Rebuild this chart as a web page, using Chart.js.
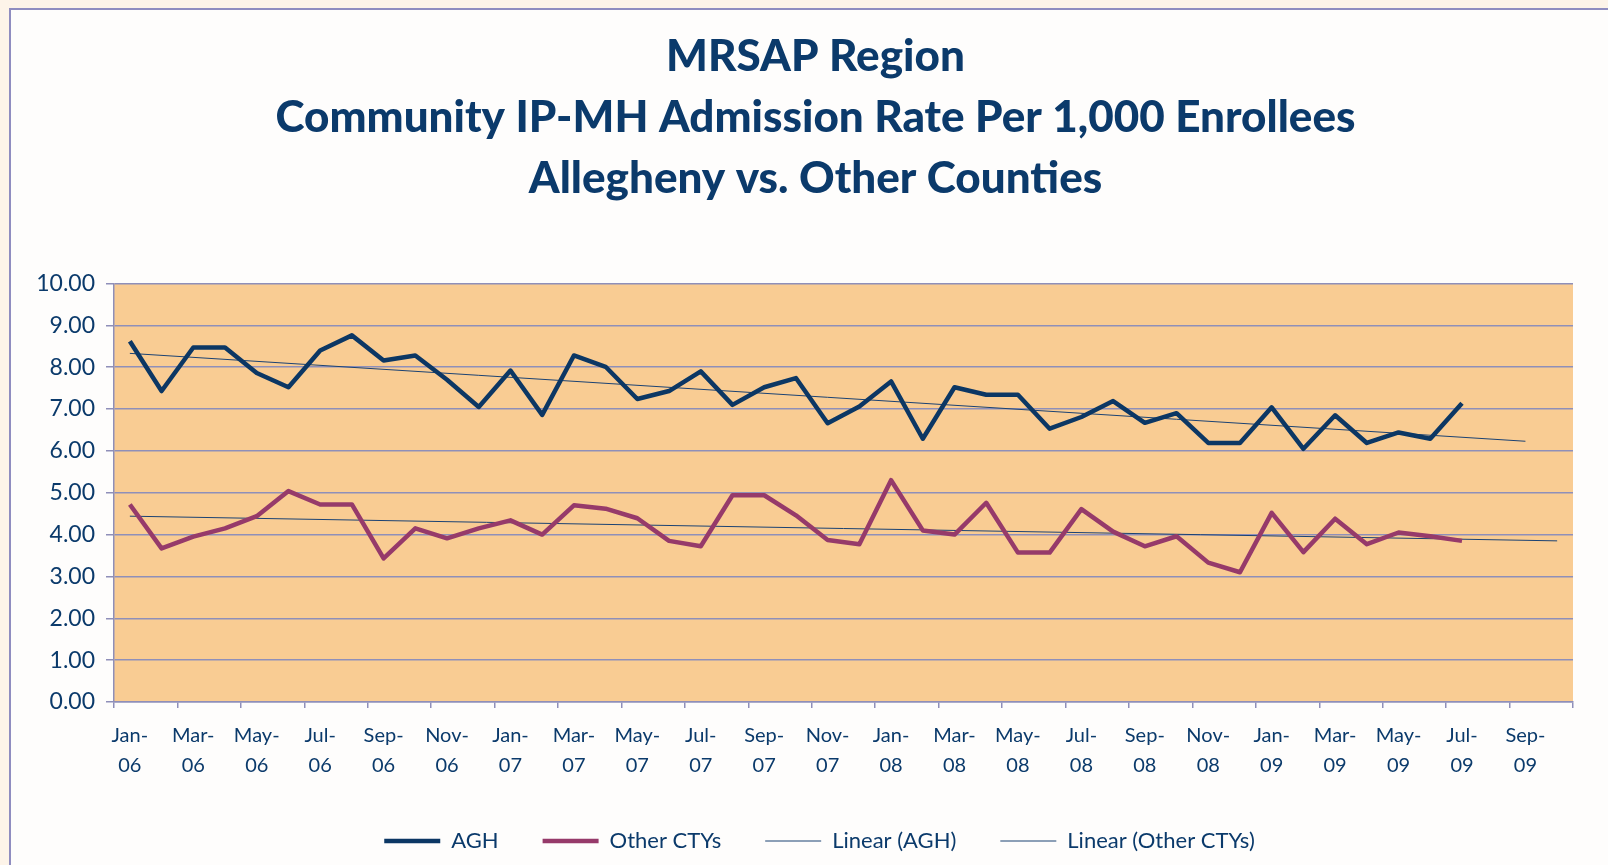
<!DOCTYPE html>
<html>
<head>
<meta charset="utf-8">
<script src="https://cdn.jsdelivr.net/npm/chart.js@4.4.1/dist/chart.umd.min.js"></script>
<style>
  html, body { margin: 0; padding: 0; overflow: hidden; background: #fdf4e9; }
  .panel { position: absolute; left: 9px; top: 8px; width: 1620px; height: 880px;
           background: #fefdfc; border-left: 2px solid #8f8dc0; border-top: 2px solid #8f8dc0; }
  canvas { position: absolute; left: 0; top: 0; }
</style>
</head>
<body>
<div class="panel"></div>
<canvas id="chart" width="1608" height="865"></canvas>
<script>
// months on the category axis (Jan-06 .. Oct-09)
const months = [
  'Jan-06','Feb-06','Mar-06','Apr-06','May-06','Jun-06','Jul-06','Aug-06','Sep-06','Oct-06','Nov-06','Dec-06',
  'Jan-07','Feb-07','Mar-07','Apr-07','May-07','Jun-07','Jul-07','Aug-07','Sep-07','Oct-07','Nov-07','Dec-07',
  'Jan-08','Feb-08','Mar-08','Apr-08','May-08','Jun-08','Jul-08','Aug-08','Sep-08','Oct-08','Nov-08','Dec-08',
  'Jan-09','Feb-09','Mar-09','Apr-09','May-09','Jun-09','Jul-09','Aug-09','Sep-09','Oct-09'
]

const agh = [
  8.62, 7.43, 8.47, 8.47, 7.86, 7.52, 8.40, 8.76, 8.16, 8.28, 7.70, 7.05,
  7.92, 6.86, 8.28, 8.01, 7.24, 7.43, 7.90, 7.10, 7.52, 7.74, 6.66, 7.06,
  7.66, 6.29, 7.52, 7.34, 7.34, 6.53, 6.81, 7.19, 6.67, 6.90, 6.19, 6.19,
  7.04, 6.05, 6.85, 6.19, 6.44, 6.29, 7.14
]

const otherCtys = [
  4.72, 3.67, 3.95, 4.15, 4.44, 5.04, 4.72, 4.72, 3.43, 4.15, 3.91, 4.15,
  4.34, 4.00, 4.70, 4.62, 4.39, 3.85, 3.72, 4.94, 4.94, 4.46, 3.87, 3.77,
  5.30, 4.10, 4.00, 4.76, 3.57, 3.57, 4.61, 4.07, 3.72, 3.96, 3.33, 3.10,
  4.52, 3.58, 4.38, 3.77, 4.05, 3.96, 3.85
]

// trend lines: start and end values (straight lines)
const trendAgh = [8.33].concat(Array(43).fill(null), [6.23])
const trendOther = [4.44].concat(Array(44).fill(null), [3.85])

const yTicks = [0, 1, 2, 3, 4, 5, 6, 7, 8, 9, 10]

const navy = '#0b3a6b'
const gridColor = '#8f8fb9'
const font = 'Lato'

const plotBg = {
  id: 'plotBg',
  beforeDraw(chart) {
    const { ctx, chartArea } = chart
    ctx.save()
    ctx.fillStyle = '#f9cc93'
    ctx.fillRect(chartArea.left, chartArea.top, chartArea.right - chartArea.left, chartArea.bottom - chartArea.top)
    ctx.restore()
  }
}

// title and legend sit a bit right of the canvas centre in the original
const shiftBlocks = {
  id: 'shiftBlocks',
  afterLayout(chart) {
    if (chart.titleBlock) chart.titleBlock.left = 58
    if (chart.legend) chart.legend.left = 66
  }
}

const ctx = document.getElementById('chart').getContext('2d')
new Chart(ctx, {
  type: 'line',
  data: {
    labels: months,
    datasets: [
      { label: 'AGH', data: agh, borderColor: '#0c3764', borderWidth: 4.5, pointRadius: 0, tension: 0,
        borderJoinStyle: 'round', fill: false },
      { label: 'Other CTYs', data: otherCtys, borderColor: '#963a6a', borderWidth: 4.5, pointRadius: 0, tension: 0,
        borderJoinStyle: 'round', fill: false },
      { label: 'Linear (AGH)', data: trendAgh, borderColor: '#1b4273', borderWidth: 1, pointRadius: 0,
        spanGaps: true, fill: false },
      { label: 'Linear (Other CTYs)', data: trendOther, borderColor: '#1b4273', borderWidth: 1, pointRadius: 0,
        spanGaps: true, fill: false }
    ]
  },
  options: {
    responsive: false,
    animation: false,
    layout: { padding: { left: 0, right: 35, top: 0, bottom: 3 } },
    plugins: {
      title: {
        display: true,
        text: ['MRSAP Region', 'Community IP-MH Admission Rate Per 1,000 Enrollees', 'Allegheny vs. Other Counties'],
        color: navy,
        font: { family: font, size: 44, weight: '900', lineHeight: 1.39 },
        padding: { top: 26, bottom: 74 }
      },
      legend: {
        position: 'bottom',
        labels: {
          usePointStyle: true,
          pointStyle: 'line',
          pointStyleWidth: 56,
          boxHeight: 22,
          padding: 44,
          color: navy,
          font: { family: font, size: 22 }
        }
      },
      tooltip: { enabled: false }
    },
    scales: {
      x: {
        offset: true,
        afterFit(scale) { scale.height = 84 },
        grid: {
          offset: true,
          drawOnChartArea: false,
          drawTicks: true,
          tickLength: 6,
          lineWidth: 1.5,
          color: c => (c.index === undefined || c.index % 2 === 0) ? gridColor : 'rgba(0,0,0,0)'
        },
        border: { display: true, color: gridColor, width: 1.5 },
        ticks: {
          autoSkip: false,
          maxRotation: 0,
          padding: 13,
          color: navy,
          font: { family: font, size: 20, lineHeight: 1.5 },
          callback(v, i) {
            if (i % 2 !== 0) return ''
            const m = months[i]
            return [m.slice(0, 4), m.slice(4)]
          }
        }
      },
      y: {
        min: 0,
        max: 10,
        afterFit(scale) { scale.width = 114 },
        afterBuildTicks(scale) { scale.ticks = yTicks.map(v => ({ value: v })) },
        grid: { color: gridColor, lineWidth: 1.5, tickLength: 8 },
        border: { display: true, color: gridColor, width: 1.5 },
        ticks: {
          padding: 11,
          color: navy,
          font: { family: font, size: 23 },
          callback: v => Number(v).toFixed(2)
        }
      }
    }
  },
  plugins: [plotBg, shiftBlocks]
})
</script>
</body>
</html>
